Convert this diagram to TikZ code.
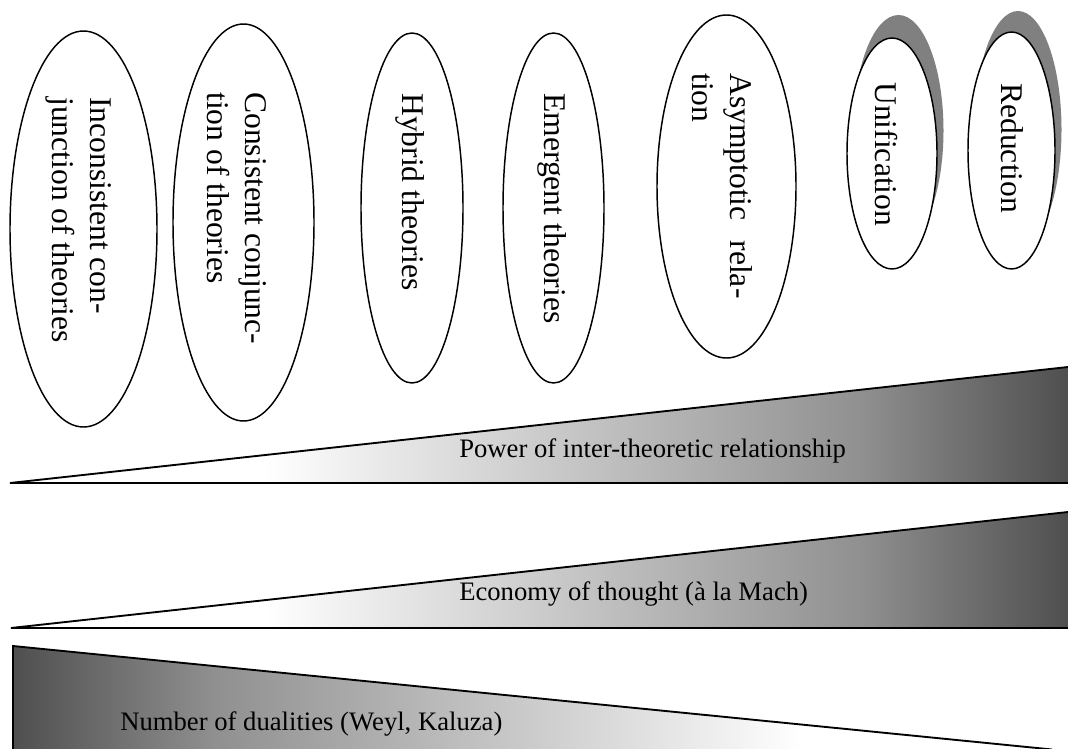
\documentclass[tikz,border=0pt]{standalone}
\usepackage{fontspec}
\setmainfont{Liberation Serif}
\usetikzlibrary{shapes.geometric}
\pgfdeclarehorizontalshading{riseramp}{100bp}{color(0bp)=(white); color(37bp)=(white);
  color(43.4bp)=(black!10); color(65.2bp)=(black!43.5); color(75bp)=(black!69); color(100bp)=(black!69)}
\pgfdeclarehorizontalshading{fallramp}{100bp}{color(0bp)=(black!69); color(25bp)=(black!69);
  color(34.8bp)=(black!43.5); color(56.6bp)=(black!10); color(63bp)=(white); color(100bp)=(white)}
\begin{document}
\begin{tikzpicture}[x=0.75pt,y=-0.75pt,
    bubble/.style 2 args={draw,ellipse,line width=1.1pt,fill=white,inner sep=0pt,
      minimum width=#1*0.75pt,minimum height=#2*0.75pt},
    bubshadow/.style 2 args={ellipse,fill=black!50,inner sep=0pt,
      minimum width=#1*0.75pt,minimum height=#2*0.75pt},
    bubtext/.style={rotate=-90,anchor=west,inner sep=0pt,align=left,
      font=\fontsize{23.7}{28.5}\selectfont},
    wedgetext/.style={anchor=base west,inner sep=0pt,font=\fontsize{20}{24}\selectfont},
    wedge/.style={line width=1.4pt,line join=miter}]
  \useasboundingbox (0,0) rectangle (1068,749);
  % relationship bubbles
  \coordinate (unifc) at (892,153.5);
  \coordinate (reduc) at (1011.5,150.5);
  \node[bubshadow={90}{231}] (unifsh) at ([shift={(6.5,-23)}]unifc) {};
  \node[bubshadow={87}{237}] (redush) at ([shift={(6.5,-21)}]reduc) {};
  \node[bubble={147}{396}] (incons) at (83.5,229) {};
  \node[bubble={141}{397}] (cons) at (243.5,222.5) {};
  \node[bubble={102}{350}] (hybrid) at (412,208) {};
  \node[bubble={101}{350}] (emerg) at (553.5,208) {};
  \node[bubble={139}{343}] (asymp) at (726.5,186.5) {};
  \node[bubble={90}{231}] (unif) at (unifc) {};
  \node[bubble={87}{237}] (redu) at (reduc) {};
  \node[bubtext] (inconslbl) at (79,97) {Inconsistent con-\\junction of theories};
  \node[bubtext] (conslbl) at (237,92) {Consistent conjunc-\\tion of theories};
  \node[bubtext] (hybridlbl) at (410,93) {Hybrid theories};
  \node[bubtext] (emerglbl) at (552,93) {Emergent theories};
  \node[bubtext] (asymplbl) at (722,73) {Asymptotic\hspace{0.63em}rela-\\tion};
  \node[bubtext] (uniflbl) at (886,82) {Unification};
  \node[bubtext] (redulbl) at (1012,83) {Reduction};
  % wedges
  \shade[shading=riseramp] (10,483) -- (1068,367) -- (1068,483) -- cycle;
  \draw[wedge] (1068,483) -- (10,483) -- (1068,367);
  \node[wedgetext] (powerlbl) at (459,457) {Power of inter-theoretic relationship};
  \shade[shading=riseramp] (11,628) -- (1068,512) -- (1068,628) -- cycle;
  \draw[wedge] (1068,628) -- (11,628) -- (1068,512);
  \node[wedgetext] (econlbl) at (459,600) {Economy of thought (à la Mach)};
  \shade[shading=fallramp] (13,646) -- (1052,749.5) -- (13,749.5) -- cycle;
  \draw[wedge] (13,749.5) -- (13,646) -- (1052,749.5);
  \node[wedgetext] (duallbl) at (120,730) {Number of dualities (Weyl, Kaluza)};
\end{tikzpicture}
\end{document}
